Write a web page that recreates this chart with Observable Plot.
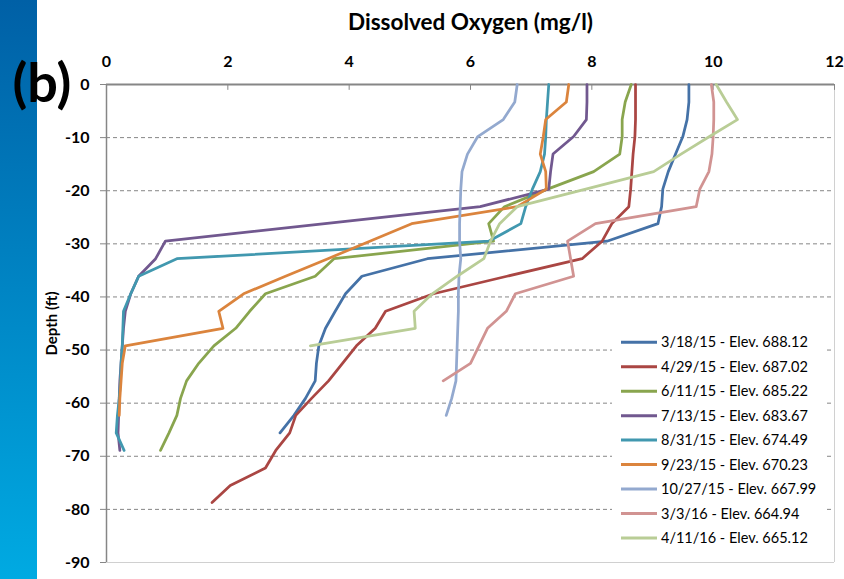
<!DOCTYPE html>
<html><head><meta charset="utf-8">
<script src="https://cdn.jsdelivr.net/npm/d3@7"></script>
<script src="https://cdn.jsdelivr.net/npm/@observablehq/plot@0.6"></script>
<style>body{margin:0;background:#fff;} #chart{width:844px;height:579px;}</style>
</head><body><div id="chart"></div>
<script>
const xTitle = "Dissolved Oxygen (mg/l)";
const yTitle = "Depth (ft)";
const panelLabel = "(b)";
const xTicks = [0, 2, 4, 6, 8, 10, 12];
const yTicks = [0, -10, -20, -30, -40, -50, -60, -70, -80, -90];
const gridDepths = [-10, -20, -30, -40, -50, -60, -70, -80];

const depths = [0, -3.3, -6.6, -9.8, -13.1, -16.4, -19.7, -23.0, -26.2, -29.5, -32.8, -36.1, -39.4, -42.7, -45.9, -49.2, -52.5, -55.8, -59.1, -62.3, -65.6, -68.9, -72.2, -75.5, -78.7];

const seriesNames = [
  "3/18/15 - Elev. 688.12",
  "4/29/15 - Elev. 687.02",
  "6/11/15 - Elev. 685.22",
  "7/13/15 - Elev. 683.67",
  "8/31/15 - Elev. 674.49",
  "9/23/15 - Elev. 670.23",
  "10/27/15 - Elev. 667.99",
  "3/3/16 - Elev. 664.94",
  "4/11/16 - Elev. 665.12"
];
const seriesColors = ["#4572A7", "#AA4643", "#89A54E", "#71588F", "#4198AF", "#DB843D", "#93A9CF", "#D19392", "#B9CD96"];

const do_031815 = [9.60, 9.60, 9.57, 9.50, 9.38, 9.26, 9.17, 9.15, 9.09, 8.25, 5.29, 4.21, 3.94, 3.77, 3.61, 3.50, 3.46, 3.44, 3.28, 3.09, 2.86];
const do_042915 = [8.72, 8.72, 8.72, 8.71, 8.68, 8.66, 8.64, 8.61, 8.33, 8.17, 7.84, 6.60, 5.39, 4.60, 4.43, 4.12, 3.89, 3.66, 3.38, 3.12, 3.02, 2.79, 2.62, 2.04, 1.74];
const do_061115 = [8.65, 8.55, 8.50, 8.50, 8.46, 8.03, 7.27, 6.56, 6.30, 6.38, 3.75, 3.44, 2.62, 2.36, 2.13, 1.77, 1.52, 1.32, 1.22, 1.16, 1.03, 0.89];
const do_071315 = [7.92, 7.92, 7.91, 7.70, 7.36, 7.32, 7.29, 6.16, 3.60, 0.97, 0.81, 0.53, 0.40, 0.31, 0.28, 0.26, 0.24, 0.22, 0.21, 0.20, 0.19, 0.22];
const do_083115 = [7.29, 7.27, 7.25, 7.24, 7.22, 7.15, 7.02, 6.91, 6.83, 6.30, 1.16, 0.53, 0.40, 0.28, 0.27, 0.26, 0.24, 0.23, 0.21, 0.18, 0.16, 0.29];
const do_092315 = [7.62, 7.58, 7.24, 7.20, 7.15, 7.24, 7.25, 6.77, 5.03, 4.34, 3.65, 2.95, 2.26, 1.85, 1.92, 0.31, 0.26, 0.24, 0.22, 0.21];
const do_102715 = [6.77, 6.73, 6.54, 6.12, 5.95, 5.86, 5.84, 5.83, 5.82, 5.82, 5.84, 5.81, 5.80, 5.80, 5.79, 5.78, 5.77, 5.76, 5.69, 5.60];
const do_030316 = [9.97, 10.01, 10.01, 10.00, 9.98, 9.93, 9.78, 9.72, 8.06, 7.60, 7.65, 7.70, 6.74, 6.59, 6.28, 6.14, 6.00, 5.55];
const do_041116 = [10.05, 10.22, 10.40, 9.94, 9.47, 9.02, 7.90, 6.77, 6.48, 6.33, 6.22, 5.78, 5.37, 5.07, 5.09, 3.36];

const seriesValues = [do_031815, do_042915, do_061115, do_071315, do_083115, do_092315, do_102715, do_030316, do_041116];
const rows = seriesNames.flatMap((name, i) => seriesValues[i].map((v, j) => ({series: name, value: v, depth: depths[j]})));

const chart = Plot.plot({
  width: 844, height: 579,
  marginTop: 84, marginLeft: 106, marginRight: 10, marginBottom: 17,
  style: {fontFamily: "Lato, sans-serif", background: "transparent", color: "#000"},
  x: {domain: [0, 12]},
  y: {domain: [-90, 0]},
  color: {domain: seriesNames, range: seriesColors},
  marks: [
    Plot.gridY(gridDepths, {stroke: "#868686", strokeOpacity: 1, strokeDasharray: "4,3"}),
    Plot.ruleY([-90], {stroke: "#d0d0d0"}),
    Plot.ruleX([12], {stroke: "#d0d0d0"}),
    Plot.ruleX([0], {stroke: "#868686", strokeWidth: 1.5}),
    Plot.ruleY([0], {stroke: "#868686", strokeWidth: 2}),
    Plot.ruleX(xTicks, {y1: 0, y2: -1.1, stroke: "#868686"}),
    Plot.axisX({anchor: "top", ticks: xTicks, tickSize: 0, tickPadding: 18, fontSize: 16, fontWeight: "bold", label: null}),
    Plot.axisY({ticks: yTicks, tickSize: 6, tickPadding: 11, tickFormat: d => String(d), fontSize: 16, fontWeight: "bold", stroke: "#868686", label: null}),
    Plot.line(rows, {x: "value", y: "depth", stroke: "series", strokeWidth: 2.75}),
    Plot.text([xTitle], {frameAnchor: "top", dy: -62, lineAnchor: "middle", fontSize: 22.5, fontWeight: "bold"}),
    Plot.text([yTitle], {frameAnchor: "left", dx: -54, rotate: -90, textAnchor: "middle", lineAnchor: "middle", fontSize: 15, fontWeight: "bold"}),
    Plot.text([panelLabel], {frameAnchor: "top-left", dx: -94, dy: 0, lineAnchor: "middle", fontSize: 54, fontWeight: "bold", textAnchor: "start"})
  ]
});

const svg = d3.select(chart);
const defs = svg.insert("defs", ":first-child");
const grad = defs.append("linearGradient").attr("id", "strip").attr("x1", 0).attr("y1", 0).attr("x2", 0).attr("y2", 1);
grad.append("stop").attr("offset", "0%").attr("stop-color", "#0060a6");
grad.append("stop").attr("offset", "100%").attr("stop-color", "#00aae2");
svg.insert("rect", "defs + *").attr("x", 0).attr("y", 0).attr("width", 37).attr("height", 579).attr("fill", "url(#strip)");

const color = chart.scale("color");
const legend = svg.append("g").attr("font-family", "Lato, sans-serif").attr("font-size", 14.5).attr("text-anchor", "start");
legend.append("rect").attr("x", 612).attr("y", 326).attr("width", 212).attr("height", 226).attr("fill", "#fff");
seriesNames.forEach((name, i) => {
  const yy = 342.3 + i * 24.45;
  legend.append("line").attr("x1", 621).attr("x2", 657).attr("y1", yy).attr("y2", yy)
    .attr("stroke", color.apply(name)).attr("stroke-width", 3);
  legend.append("text").attr("x", 661).attr("y", yy).attr("dy", "0.35em").attr("text-anchor", "start").attr("fill", "#000").text(name);
});

document.getElementById("chart").appendChild(chart);
</script>
</body></html>
